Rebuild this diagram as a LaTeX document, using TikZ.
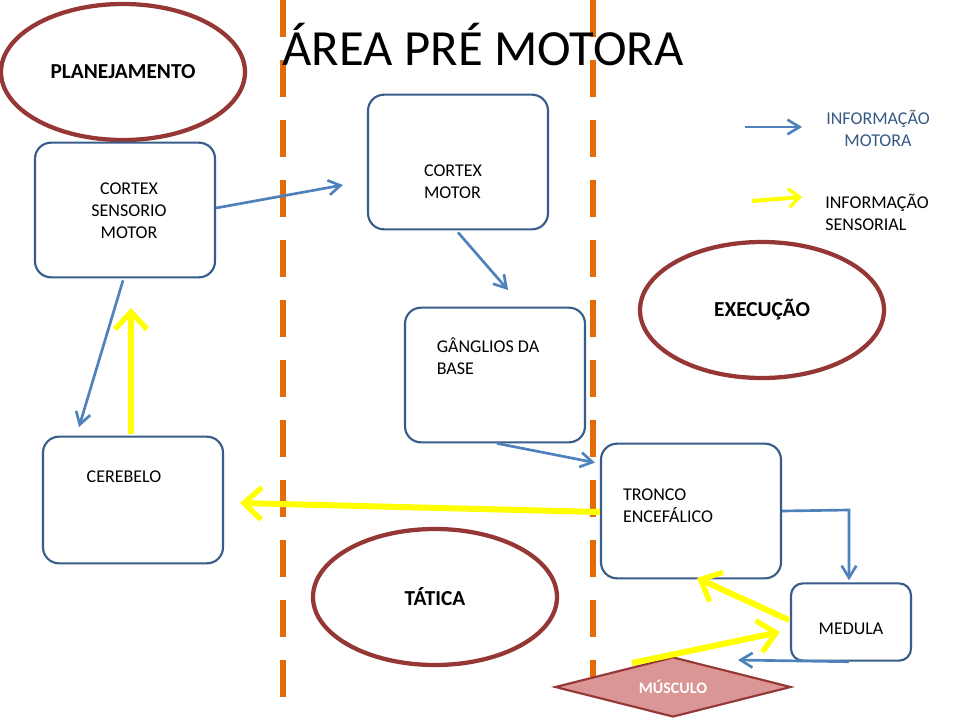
\documentclass[tikz,border=0pt]{standalone}
\usepackage{fontspec}
\setmainfont{Carlito}
\usetikzlibrary{shapes.geometric,arrows.meta,calc}
\definecolor{bl}{HTML}{4F81BD}
\definecolor{bbord}{HTML}{385D8A}
\definecolor{dred}{HTML}{953735}
\definecolor{orng}{HTML}{E36C09}
\definecolor{ylw}{HTML}{FFFF00}
\definecolor{pink}{HTML}{D99694}
\tikzset{
 box/.style={draw=bbord,line width=1.6pt,rounded corners=12pt,fill=white,inner sep=0pt},
 oval/.style={draw=dred,line width=3.2pt,ellipse,minimum width=183pt,minimum height=102pt,font=\bfseries\fontsize{16}{19}\selectfont},
 barr/.style={draw=bl,line width=2pt,-{Straight Barb[length=9pt,width=11pt,line width=2pt]}},
 yarr/.style={draw=ylw,line width=4.5pt,-{Straight Barb[length=13pt,width=24pt,line width=4pt]}},
 dline/.style={draw=orng,line width=5pt,dash pattern=on 28pt off 17pt},
 lbl/.style={font=\fontsize{13.5}{16.5}\selectfont,align=left},
}
\begin{document}
\begin{tikzpicture}[x=0.75pt,y=-0.75pt]
\useasboundingbox (0,0) rectangle (960,720);
\fill[white] (0,0) rectangle (960,720);
\draw[dline] (283,0) -- (283,720);
\draw[dline] (593,0) -- (593,720);
\node[font=\fontsize{38}{44}\selectfont] (title) at (483,45) {ÁREA PRÉ MOTORA};
\node[oval,fill=white] (plan) at (123,72) {PLANEJAMENTO};
\node[oval] (exec) at (762,310) {EXECUÇÃO};
\node[oval] (tat) at (435,597) {TÁTICA};
\node[box,minimum width=135pt,minimum height=101pt] (csm) at (125,210) {};
\node[lbl,align=center] (csmt) at (129,211) {CORTEX\\SENSORIO\\MOTOR};
\node[box,minimum width=135pt,minimum height=101pt] (cm) at (458,162) {};
\node[lbl] (cmt) at (453,182) {CORTEX\\MOTOR};
\node[box,minimum width=135pt,minimum height=101pt] (gb) at (495,375) {};
\node[lbl] (gbt) at (488,356) {GÂNGLIOS DA\\BASE};
\node[box,minimum width=135pt,minimum height=95pt] (cer) at (133,500) {};
\node[lbl] (cert) at (124,477) {CEREBELO};
\node[box,minimum width=135pt,minimum height=101pt] (tr) at (691,511) {};
\node[lbl] (trt) at (668,506) {TRONCO\\ENCEFÁLICO};
\node[box,minimum width=90pt,minimum height=58pt,rounded corners=9pt] (med) at (851,622) {};
\node[lbl] (medt) at (851,629) {MEDULA};
\node[diamond,draw=dred,line width=1.6pt,fill=pink,aspect=3.9,minimum width=177pt,minimum height=45pt,inner sep=0pt,text=white,font=\bfseries\fontsize{12}{14}\selectfont] (mus) at (673,687) {MÚSCULO};
% legend
\coordinate (l1a) at (745,127); \coordinate (l1b) at (802,127);
\draw[barr] (l1a) -- (l1b);
\node[lbl,align=center,text=bl!70!black] (l1t) at (878,128) {INFORMAÇÃO\\MOTORA};
\coordinate (l2a) at (752,201); \coordinate (l2b) at (802,197);
\draw[draw=ylw,line width=3pt,-{Straight Barb[length=8pt,width=14pt,line width=2.5pt]}] (l2a) -- (l2b);
\node[lbl,align=left] (l2t) at (877,212) {INFORMAÇÃO\\SENSORIAL};
% connectors
\coordinate (p1) at (343,185);
\draw[barr] ($(csm.east)+(0,-2)$) -- (p1);
\coordinate (p2) at (508,290);
\draw[barr] ($(cm.south)+(0,2)$) -- (p2);
\coordinate (p3) at (79,427);
\draw[barr] ($(csm.south)+(-2,2)$) -- (p3);
\coordinate (p4) at (131,308);
\draw[yarr] ($(cer.north)+(-2,-2)$) -- (p4);
\draw[barr] ($(gb.south)+(2,0)$) -- ($(tr.north west)+(-5,20)$);
\coordinate (p5) at (240,503);
\draw[yarr] ($(tr.west)+(0,1)$) -- (p5);
\coordinate (p6) at (849,510);
\draw[barr] (tr.east) -- (p6) -- ($(med.north)+(-2,-2)$);
\coordinate (p7) at (697,578);
\draw[yarr] ($(med.west)+(-1,-2)$) -- (p7);
\coordinate (p8) at (632,663);
\draw[yarr] (p8) -- ($(med.west)+(-10,10)$);
\coordinate (p9) at (738,660);
\draw[barr] ($(med.south)+(-2,0)$) -- (p9);
\end{tikzpicture}
\end{document}
